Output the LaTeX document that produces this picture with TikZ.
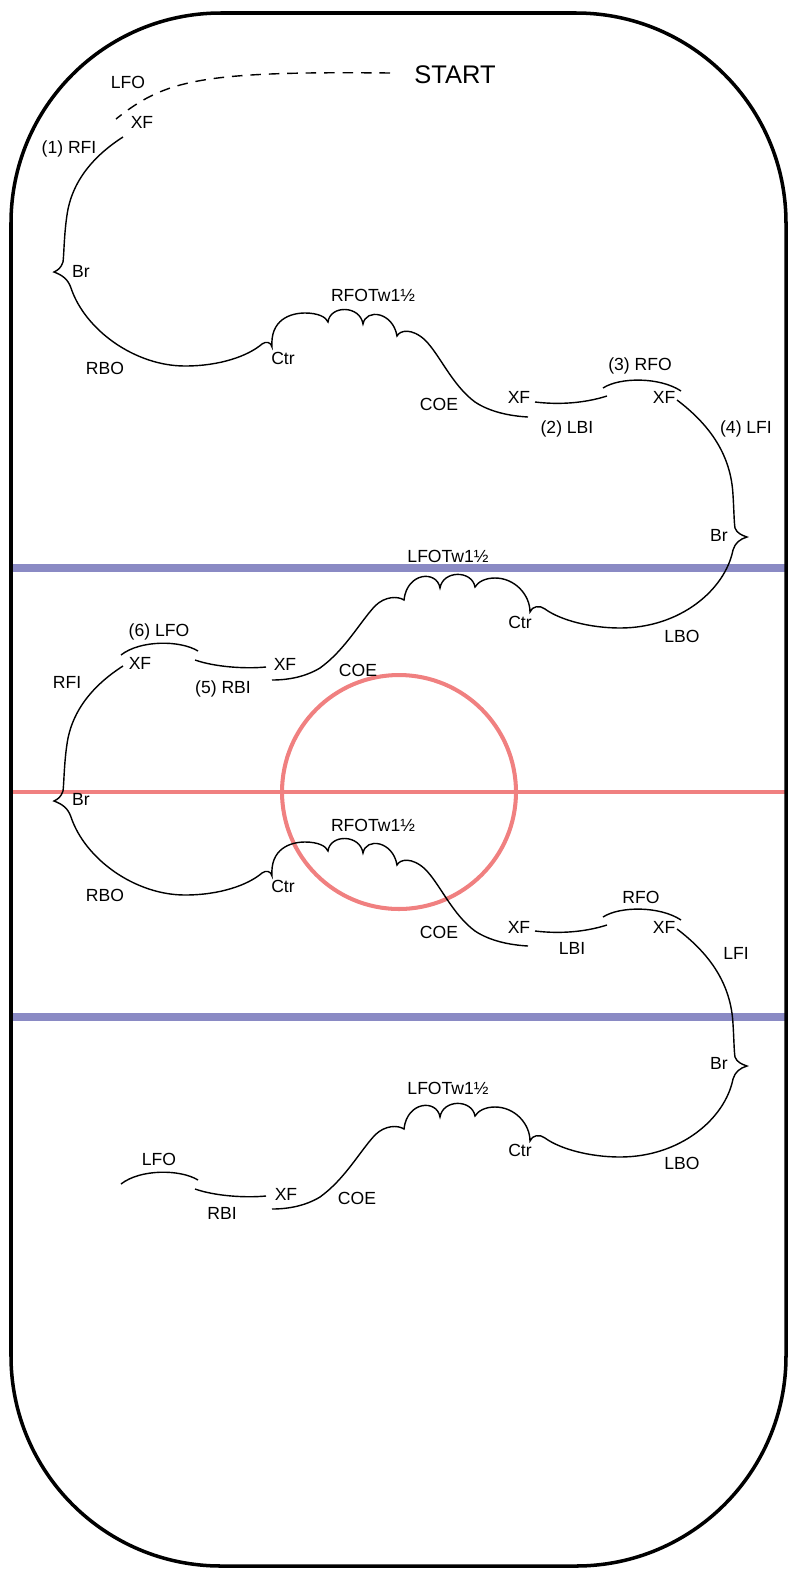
\documentclass[tikz,border=0pt]{standalone}
\usepackage{fontspec}
\setmainfont{Liberation Sans}
\definecolor{blueline}{RGB}{138,138,196}
\definecolor{redline}{RGB}{240,128,128}

\begin{document}
\begin{tikzpicture}[x = 0.02cm, y = -0.02cm,
    trace/.style = {line width = 0.8pt},
    lbl/.style = {font = \fontsize{10}{12}\selectfont, inner sep = 0pt, text height = 7.2pt, text depth = 0pt},
    period/.pic = {
        % RFI, Br, RBO, Ctr, RFO twizzle, COE
        \draw[trace] (123,137) .. controls (95,155) and (72,180) .. (67,215)
            .. controls (64,235) and (64,255) .. (63,262)
            .. controls (61,268) and (58,270) .. (54,272)
            .. controls (62,275) and (68,279) .. (71,288)
            .. controls (85,330) and (135,366) .. (185,366)
            .. controls (220,366) and (248,356) .. (262,344)
            .. controls (266,341) and (271,342) .. (272,347)
            .. controls (270,320) and (290,313) .. (305,313)
            .. controls (318,313) and (326,317) .. (328,322)
            .. controls (330,305) and (360,305) .. (363,324)
            .. controls (366,308) and (393,312) .. (397,336)
            .. controls (400,330) and (412,328) .. (425,340)
            .. controls (440,355) and (452,385) .. (475,402)
            .. controls (490,412) and (510,416) .. (528,417);
        \draw[trace] (535,402) .. controls (560,405) and (585,403) .. (607,396);
        \draw[trace] (603,388) .. controls (620,377) and (660,377) .. (681,391);
        % LFI, Br, LBO, Ctr, LFO twizzle, COE
        \draw[trace] (677,400) .. controls (710,425) and (731,455) .. (733,495)
            .. controls (734,510) and (734,522) .. (735,528)
            .. controls (737,533) and (741,535) .. (747,537)
            .. controls (740,539) and (735,543) .. (733,550)
            .. controls (725,590) and (680,628) .. (620,628)
            .. controls (590,628) and (560,620) .. (545,609)
            .. controls (540,605) and (532,606) .. (530,612)
            .. controls (530,595) and (515,578) .. (495,578)
            .. controls (485,578) and (478,582) .. (475,587)
            .. controls (472,570) and (443,570) .. (440,588)
            .. controls (437,570) and (407,572) .. (404,600)
            .. controls (398,596) and (385,596) .. (375,606)
            .. controls (360,622) and (345,650) .. (320,668)
            .. controls (305,677) and (288,680) .. (272,680);
        \draw[trace] (266,667) .. controls (245,669) and (215,667) .. (195,660);
        \draw[trace] (121,655) .. controls (140,640) and (180,640) .. (198,651);
    }]
    \useasboundingbox (0,0) rectangle (788,1569);

    % rink markings
    \draw[blueline, line width = 4.5pt] (11,568) -- (788,568);
    \draw[blueline, line width = 4.5pt] (11,1017) -- (788,1017);
    \draw[redline, line width = 2.3pt] (11,792) -- (788,792);
    \draw[redline, line width = 2.3pt] (399,792) circle [radius = 2.34cm];
    \draw[line width = 2pt, rounded corners = 4.2cm] (11,13) rectangle (786,1566);

    % start
    \node[font = \fontsize{14.5}{17}\selectfont, inner sep = 0pt, text height = 10.4pt, text depth = 0pt] (START) at (455,74) {START};
    \draw[trace, dash pattern = on 6pt off 4.5pt] (390,73) .. controls (200,71) and (165,80) .. (116,119);

    % the pattern, twice
    \pic at (0,0) {period};
    \pic at (0,529) {period};

    % labels, first time
    \node[lbl] (LFO0) at (128,82) {LFO};
    \node[lbl] (XF1) at (142,122) {XF};
    \node[lbl] (RFI1) at (69,147) {(1) RFI};
    \node[lbl] (BR1) at (81,271) {Br};
    \node[lbl] (RBO1) at (105,368) {RBO};
    \node[lbl] (CTR1) at (283,358) {Ctr};
    \node[lbl] (TW1) at (373,295) {RFOTw1½};
    \node[lbl] (COE1) at (439,404) {COE};
    \node[lbl] (XF2) at (519,397) {XF};
    \node[lbl] (LBI2) at (567,427) {(2) LBI};
    \node[lbl] (RFO3) at (640,364) {(3) RFO};
    \node[lbl] (XF3) at (664,397) {XF};
    \node[lbl] (LFI4) at (746,427) {(4) LFI};
    \node[lbl] (BR2) at (719,535) {Br};
    \node[lbl] (LBO2) at (682,636) {LBO};
    \node[lbl] (CTR2) at (520,622) {Ctr};
    \node[lbl] (TW2) at (448,556) {LFOTw1½};
    \node[lbl] (COE2) at (358,670) {COE};
    \node[lbl] (XF4) at (285,664) {XF};
    \node[lbl] (RBI5) at (223,687) {(5) RBI};
    \node[lbl] (LFO6) at (159,630) {(6) LFO};
    \node[lbl] (XF5) at (140,663) {XF};
    \node[lbl] (RFI7) at (67,682) {RFI};

    % labels, second time
    \node[lbl] (BR3) at (81,799) {Br};
    \node[lbl] (RBO3) at (105,895) {RBO};
    \node[lbl] (CTR3) at (283,886) {Ctr};
    \node[lbl] (TW3) at (373,825) {RFOTw1½};
    \node[lbl] (COE3) at (439,932) {COE};
    \node[lbl] (XF6) at (519,927) {XF};
    \node[lbl] (LBI8) at (572,948) {LBI};
    \node[lbl] (RFO9) at (641,897) {RFO};
    \node[lbl] (XF7) at (664,927) {XF};
    \node[lbl] (LFI10) at (736,953) {LFI};
    \node[lbl] (BR4) at (719,1063) {Br};
    \node[lbl] (LBO4) at (682,1163) {LBO};
    \node[lbl] (CTR4) at (520,1150) {Ctr};
    \node[lbl] (TW4) at (448,1088) {LFOTw1½};
    \node[lbl] (COE4) at (357,1198) {COE};
    \node[lbl] (XF8) at (286,1194) {XF};
    \node[lbl] (RBI11) at (222,1213) {RBI};
    \node[lbl] (LFO12) at (159,1159) {LFO};
\end{tikzpicture}
\end{document}
